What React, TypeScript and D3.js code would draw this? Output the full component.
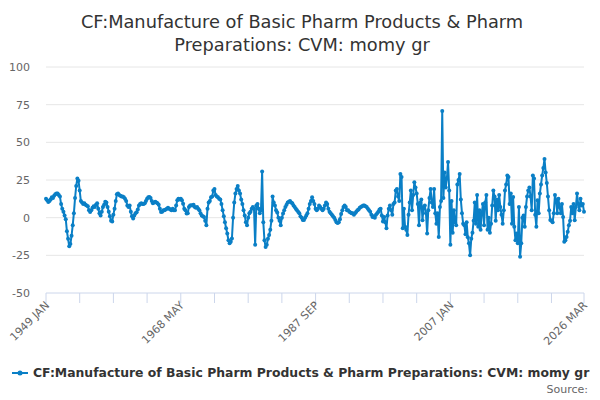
import React from 'react';
import * as d3 from 'd3';

const MONTHS = ['JAN', 'FEB', 'MAR', 'APR', 'MAY', 'JUN', 'JUL', 'AUG', 'SEP', 'OCT', 'NOV', 'DEC'];
const START_YEAR = 1949;
const STEP = 2; // one reading every two months
const LAST_MONTH = 926; // 2026 MAR

// values, 6 per year (Jan, Mar, May, Jul, Sep, Nov)
const v1949 = [12.6, 11.5, 10.4, 11, 12, 13.5];
const v1950s = [
  13, 14.5, 15.5, 16, 16, 15,
  14, 9, 6, 4, 1.5, -1,
  -9, -14, -19, -17.5, -12, -5,
  3, 13, 21, 26, 24.5, 18,
  11, 10, 9, 9.5, 8.5, 8,
  7.5, 5, 3.8, 5, 6.5, 7.5,
  7, 8.5, 9.5, 6, 3, 1.5,
  4, 7, 8.5, 10.5, 10, 7,
  4, 1, -2, -2.5, 2, 6,
  11, 15.5, 16, 15, 14.5, 14,
];
const v1960s = [
  14, 13.5, 12.6, 11, 8, 7,
  8, 4, 1, -0.5, 1.5, 3,
  3.6, 5.5, 8, 9, 9.5, 9,
  9, 9.5, 11, 12.5, 13.5, 13.7,
  13, 11, 9.5, 10, 10.5, 10,
  9.5, 8.5, 6, 3.8, 4, 5,
  5, 5.5, 6, 6.5, 6, 5.5,
  5, 6, 4.9, 5, 8, 11.5,
  12.6, 12, 12.6, 11.5, 9.3, 6,
  5, 2.7, 3, 7, 8, 8.2,
];
const v1970s = [
  8, 8.5, 7, 6.5, 7, 6,
  5, 3, 1.5, 1, 0.5, -2,
  -5, 6, 10, 11, 13.5, 14,
  18, 19, 15, 14, 13.5, 12.5,
  12, 9, 5, 1, -3, -7,
  -10.5, -15, -17, -16, -13.8, 0,
  10, 16, 19, 21, 18, 16,
  12, 9, 5, 1.5, -3, -5,
  0, 3, 4, 6, 7, 6,
  -18, 8, 9, 6, 3, 5,
];
const v1980s = [
  30.7, -3, -15, -19.5, -18, -14,
  -11.5, -8, -2, 14, 10, 8,
  5, 3.5, 0, -2, -5, 0,
  2.7, 5, 7, 8.5, 10, 10.5,
  11, 10, 9.5, 8, 7, 6,
  5, 4, 3, 1, 0, -1.5,
  -1.5, 0, 1.5, 3, 6, 9,
  11, 13.5, 11, 9, 6, 5,
  6, 8, 7, 6, 5, 6,
  8, 10, 9, 6, 4, 3,
];
const v1990s = [
  2, 1, 0, -1.5, -3, -3.5,
  -3, -1, 2.5, 5, 7, 8,
  7, 5, 5, 4, 3.5, 3,
  3, 2, 3, 4, 5, 5.5,
  6.5, 7, 7.5, 8, 8, 7.5,
  7, 6, 5, 4, 2, 0.5,
  1, 0, 2, 3, 4, 5.5,
  6, 1.5, -2.5, 0.5, -3, -7,
  1.5, 6, 8, 5, 2, 9,
  10, 18, 19, 14, 11, 29,
];
const v2000s = [
  27, -7, 6, -6, -8, -11.5,
  2, 10, 18, 5, 15, 23.5,
  20, 16, 9, -5, 10, 12,
  -1.7, 7, 8, 3, -10.5, 5,
  13, 19, 10, 7, 19, 3,
  -4, 3, -12.8, 7, 11, 70.8,
  13, 30, 20, 26, 37, 18,
  -18, 11, -10, 5, -3, -5,
  22, 25, 29, 12, 3, -4,
  -5, -11, -3, -13, -17, -25,
];
const v2010s = [
  -14, -10, -2, 10, -4, 15,
  -6, 5, -8, 3, 9, -5,
  10, 15, -8, 0, -10, -4,
  8, 18, 14, -2, 12, 5,
  15, 7, 2, -4, 5, 18,
  22, 28, 27, 9, 16, -4,
  13.7, -6, -15, -10.5, -17, 7,
  -26, -17, 0, 1.5, -6, 7,
  14, 18, 20, 14, 5, 28,
  26, 2, -6, 11.5, 3, 16,
];
const v2020s = [
  22, 28, 33, 39, 30, 23,
  14, 5, -1.5, -2, -3, 3,
  15, 11.5, 3, 12.5, 7, 3,
  9, 0.5, -16, -15, -12.8, -9.4,
  -5, -2, 7, 3, 9, -1.7,
  7, 16, 9, 5, 12.5, 8,
  9, 4,
];

const values = [...v1949, ...v1950s, ...v1960s, ...v1970s, ...v1980s, ...v1990s, ...v2000s, ...v2010s, ...v2020s];
const yTicks = [-50, -25, 0, 25, 50, 75, 100];
const labelMonths = [0, 232, 464, 696, LAST_MONTH];

const TITLE = 'CF:Manufacture of Basic Pharm Products & Pharm Preparations: CVM: momy gr';
const COLOR = '#0a7fc6';
const FONT = '"DejaVu Sans", Verdana, sans-serif';

const monthLabel = (m: number) => `${START_YEAR + Math.floor(m / 12)} ${MONTHS[m % 12]}`;

export default function App() {
  const width = 600;
  const height = 400;
  const x = d3.scaleLinear().domain([0, LAST_MONTH]).range([46, 584]);
  const y = d3.scaleLinear().domain([-50, 100]).range([293, 67]);

  const points = values.map((v, i) => ({ m: i * STEP, v }));
  const line = d3.line<{ m: number; v: number }>().x(d => x(d.m)).y(d => y(d.v));

  const tickMonths = d3.range(0, LAST_MONTH, 58).concat([LAST_MONTH]);

  return (
    <svg width={width} height={height} style={{ position: 'absolute', left: 0, top: 0, background: '#fff' }}
      fontFamily={FONT}>
      <text x={302} y={28} textAnchor="middle" fontSize={17.8} fill="#333">
        CF:Manufacture of Basic Pharm Products &amp; Pharm
      </text>
      <text x={302} y={51} textAnchor="middle" fontSize={17.8} fill="#333">
        Preparations: CVM: momy gr
      </text>

      {yTicks.map(t => (
        <g key={t}>
          {t !== -50 && <line x1={46} x2={584} y1={y(t)} y2={y(t)} stroke="#e6e6e6" />}
          <text x={30} y={y(t) + 4} textAnchor="end" fontSize={11} fill="#666">{t}</text>
        </g>
      ))}

      <line x1={46} x2={584} y1={y(-50)} y2={y(-50)} stroke="#ccd6eb" />
      {tickMonths.map(m => (
        <line key={m} x1={x(m)} x2={x(m)} y1={y(-50)} y2={y(-50) + 10} stroke="#ccd6eb" />
      ))}
      {labelMonths.map(m => (
        <text key={m} transform={`translate(${x(m) + 4},${y(-50) + 13}) rotate(-45)`} textAnchor="end"
          fontSize={11} fill="#666">{monthLabel(m)}</text>
      ))}

      <path d={line(points) || ''} fill="none" stroke={COLOR} strokeWidth={2} strokeLinejoin="round" />
      {points.map(p => (
        <circle key={p.m} cx={x(p.m)} cy={y(p.v)} r={2} fill={COLOR} />
      ))}

      <line x1={12} x2={28} y1={373} y2={373} stroke={COLOR} strokeWidth={2} />
      <circle cx={20} cy={373} r={2.5} fill={COLOR} />
      <text x={33} y={377} fontSize={12.4} fontWeight="bold" fill="#333">{TITLE}</text>

      <text x={588} y={393} textAnchor="end" fontSize={11} fill="#666">Source:</text>
    </svg>
  );
}
